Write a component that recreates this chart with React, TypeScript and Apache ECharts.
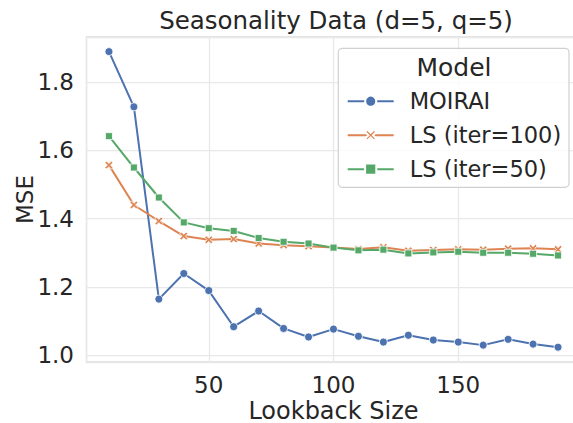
import React, { useEffect, useRef } from "react";
import * as echarts from "echarts";

const lookback = [10, 20, 30, 40, 50, 60, 70, 80, 90, 100, 110, 120, 130, 140, 150, 160, 170, 180, 190];
const moirai = [1.890, 1.728, 1.164, 1.239, 1.189, 1.083, 1.129, 1.078, 1.053, 1.076, 1.055, 1.038, 1.058, 1.044, 1.038, 1.029, 1.046, 1.032, 1.023];
const ls100 = [1.557, 1.440, 1.393, 1.349, 1.338, 1.340, 1.327, 1.322, 1.319, 1.315, 1.311, 1.316, 1.306, 1.308, 1.310, 1.309, 1.312, 1.313, 1.310];
const ls50 = [1.642, 1.550, 1.462, 1.389, 1.372, 1.364, 1.343, 1.332, 1.327, 1.315, 1.307, 1.309, 1.298, 1.301, 1.303, 1.300, 1.300, 1.297, 1.292];
const seriesNames = ["MOIRAI", "LS (iter=100)", "LS (iter=50)"];
const colors = ["#4C72B0", "#DD8452", "#55A868"];

const FONT = "DejaVu Sans";
const TEXT = "#262626";
const X_MARK = "path://M0,2 L2,0 L5,3 L8,0 L10,2 L7,5 L10,8 L8,10 L5,7 L2,10 L0,8 L3,5 Z";

export default function App() {
  const ref = useRef<HTMLDivElement>(null);
  useEffect(() => {
    if (!ref.current) return;
    const chart = echarts.init(ref.current, undefined, { renderer: "svg" });
    const mk = (name: string, vals: number[], color: string, symbol: string, size: number) => ({
      name,
      type: "line",
      data: lookback.map((x, i) => [x, vals[i]]),
      symbol,
      symbolSize: size,
      showAllSymbol: true,
      lineStyle: { color, width: 2 },
      itemStyle: { color, borderColor: "#ffffff", borderWidth: 0.8 },
      emphasis: { disabled: true },
    });
    chart.setOption({
      animation: false,
      textStyle: { fontFamily: FONT },
      title: {
        text: "Seasonality Data (d=5, q=5)",
        left: 331,
        textAlign: "center",
        top: 3,
        textStyle: { fontFamily: FONT, fontSize: 24.5, fontWeight: "normal", color: TEXT },
      },
      grid: {
        left: 86.5,
        top: 37,
        width: 494,
        bottom: 61,
        outerBoundsMode: "none",
        containLabel: false,
        show: true,
        borderColor: "#cccccc",
        borderWidth: 1.25,
        backgroundColor: "#ffffff",
      },
      xAxis: {
        type: "value",
        min: 1,
        max: 199,
        splitNumber: 4,
        name: "Lookback Size",
        nameLocation: "middle",
        nameMoveOverlap: false,
        nameGap: 41,
        nameTextStyle: { fontFamily: FONT, fontSize: 24, color: TEXT, lineHeight: 16 },
        axisLine: { show: false },
        axisTick: { show: false },
        axisLabel: { fontFamily: FONT, fontSize: 23, color: TEXT, margin: 11, showMinLabel: false, showMaxLabel: false },
        splitLine: { show: true, lineStyle: { color: "#e8e8e8", width: 1.25 } },
      },
      yAxis: {
        type: "value",
        min: 0.9795,
        max: 1.9328,
        splitNumber: 5,
        name: "MSE",
        nameLocation: "middle",
        nameMoveOverlap: false,
        nameGap: 50,
        nameTextStyle: { fontFamily: FONT, fontSize: 23, color: TEXT },
        axisLine: { show: false },
        axisTick: { show: false },
        axisLabel: {
          fontFamily: FONT, fontSize: 23, color: TEXT, margin: 12.5,
          showMinLabel: false, showMaxLabel: false,
          formatter: (v: number) => v.toFixed(1),
        },
        splitLine: { show: true, lineStyle: { color: "#e8e8e8", width: 1.25 } },
      },
      legend: {
        orient: "vertical",
        left: 346.7,
        top: 89.7,
        padding: 0,
        z: 100,
        itemWidth: 46,
        itemHeight: 14,
        itemGap: 11,
        data: seriesNames,
        textStyle: { fontFamily: FONT, fontSize: 22.5, color: TEXT, lineHeight: 22, padding: [0, 0, 0, 11] },
      },
      graphic: [
        {
          type: "rect",
          shape: { x: 338.3, y: 48.3, width: 230.7, height: 139, r: 4 },
          style: { fill: "rgba(255,255,255,0.8)", stroke: "#d0d0d0", lineWidth: 1.2 },
          z: 50,
        },
        {
          type: "text",
          x: 454,
          y: 67,
          style: { text: "Model", fontFamily: FONT, fontSize: 25, fill: TEXT, align: "center", verticalAlign: "middle" },
          z: 51,
        },
      ],
      series: [
        mk(seriesNames[0], moirai, colors[0], "circle", 8),
        mk(seriesNames[1], ls100, colors[1], X_MARK, 8),
        mk(seriesNames[2], ls50, colors[2], "rect", 7),
      ],
    });
    return () => chart.dispose();
  }, []);
  return (
    <div style={{ width: 573, height: 423, position: "absolute", left: 0, top: 0, overflow: "hidden" }}>
      <div ref={ref} style={{ width: 573, height: 423 }} />
    </div>
  );
}
